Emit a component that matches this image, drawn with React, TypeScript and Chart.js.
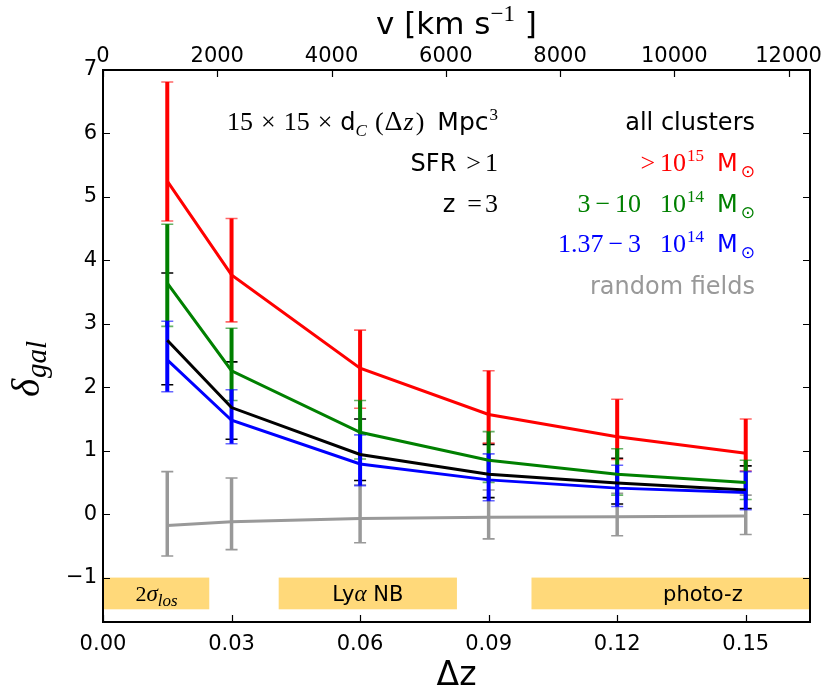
import React, { useEffect, useRef } from 'react';
import { Chart, registerables } from 'chart.js';

Chart.register(...registerables);

// ---------------- data ----------------
const dz = [0.015, 0.03, 0.06, 0.09, 0.12, 0.15];

const redY = [5.25, 3.77, 2.3, 1.57, 1.22, 0.96];
const redHi = [6.81, 4.66, 2.9, 2.26, 1.81, 1.5];
const redLo = [4.62, 3.03, 1.67, 1.12, 0.86, 0.68];

const greenY = [3.64, 2.26, 1.29, 0.85, 0.63, 0.5];
const greenHi = [4.57, 2.93, 1.79, 1.3, 1.03, 0.85];
const greenLo = [2.96, 1.79, 0.87, 0.5, 0.3, 0.23];

const blackY = [2.74, 1.68, 0.94, 0.63, 0.49, 0.38];
const blackHi = [3.8, 2.4, 1.5, 1.1, 0.88, 0.76];
const blackLo = [2.04, 1.18, 0.53, 0.26, 0.16, 0.09];

const blueY = [2.43, 1.48, 0.79, 0.54, 0.41, 0.34];
const blueHi = [3.04, 1.96, 1.25, 0.95, 0.77, 0.67];
const blueLo = [1.93, 1.11, 0.45, 0.21, 0.12, 0.07];

const grayY = [-0.18, -0.12, -0.07, -0.05, -0.04, -0.03];
const grayHi = [0.67, 0.57, 0.46, 0.38, 0.33, 0.3];
const grayLo = [-0.66, -0.56, -0.45, -0.39, -0.34, -0.32];

const xTicks = [0, 0.03, 0.06, 0.09, 0.12, 0.15];
const vTicks = [0, 2000, 4000, 6000, 8000, 10000, 12000];
const yTicks = [-1, 0, 1, 2, 3, 4, 5, 6, 7];

const X_MIN = 0;
const X_MAX = 0.165;
const V_MAX = 12375; // c * dz / (1+z), z = 3
const Y_MIN = -1.7;
const Y_MAX = 7;

const bandStart = [0, 0.041, 0.1];
const bandEnd = [0.0248, 0.0826, 0.165];
const bandLabelX = [0.0125, 0.0618, 0.14];
const BAND_TOP = -1.0;
const BAND_BOTTOM = -1.5;

// ---------------- styles ----------------
const RED = '#ff0000';
const GREEN = '#008000';
const BLUE = '#0000ff';
const BLACK = '#000000';
const GRAY = '#999999';
const BAND = '#ffd97a';

const SANS = '"DejaVu Sans", sans-serif';
const SERIF = '"Liberation Serif", "DejaVu Serif", serif';
const fnt = (size: number, fam: string, style = '') => `${style} ${size}px ${fam}`.trim();

type Series = { y: number[]; hi: number[]; lo: number[]; color: string; barW: number };
const SERIES_ERR_ORDER: Series[] = [
  { y: grayY, hi: grayHi, lo: grayLo, color: GRAY, barW: 3.5 },
  { y: blackY, hi: blackHi, lo: blackLo, color: BLACK, barW: 2 },
  { y: redY, hi: redHi, lo: redLo, color: RED, barW: 4 },
  { y: greenY, hi: greenHi, lo: greenLo, color: GREEN, barW: 4 },
  { y: blueY, hi: blueHi, lo: blueLo, color: BLUE, barW: 4 },
];

type Run = { t?: string; f?: string; dy?: number; c?: string; sp?: number };

function runWidth(ctx: CanvasRenderingContext2D, r: Run) {
  if (r.sp !== undefined) return r.sp;
  ctx.font = r.f || '';
  return ctx.measureText(r.t || '').width;
}

function drawRuns(ctx: CanvasRenderingContext2D, runs: Run[], x: number, y: number, align: 'left' | 'right' | 'center', color: string) {
  let w = 0;
  for (const r of runs) w += runWidth(ctx, r);
  let cx = align === 'right' ? x - w : align === 'center' ? x - w / 2 : x;
  ctx.textAlign = 'left';
  ctx.textBaseline = 'alphabetic';
  for (const r of runs) {
    if (r.sp === undefined) {
      ctx.font = r.f || '';
      ctx.fillStyle = r.c || color;
      ctx.fillText(r.t || '', cx, y + (r.dy || 0));
    }
    cx += runWidth(ctx, r);
  }
}

const A_S = 24; // annotation sans size
const A_M = 26; // annotation math size
const A_SUP = 17;
const M = fnt(A_M, SERIF);
const MI = fnt(A_M, SERIF, 'italic');
const SUPF = fnt(A_SUP, SERIF);
const S = fnt(A_S, SANS);

const msun = (): Run[] => [
  { sp: 13 },
  { t: 'M', f: S },
  { sp: 3 },
  { t: '\u2299', f: fnt(A_SUP, SANS), dy: 6 },
];

const decorPlugin = {
  id: 'decor',
  beforeDatasetsDraw(chart: any) {
    const { ctx, scales } = chart;
    const xs = scales.x;
    const ys = scales.y;
    ctx.save();
    // bands
    ctx.fillStyle = BAND;
    const yT = ys.getPixelForValue(BAND_TOP);
    const yB = ys.getPixelForValue(BAND_BOTTOM);
    for (let i = 0; i < bandStart.length; i++) {
      const x0 = xs.getPixelForValue(bandStart[i]);
      const x1 = xs.getPixelForValue(bandEnd[i]);
      ctx.fillRect(x0, yT, x1 - x0, yB - yT);
    }
    // band labels
    const by = yT + (yB - yT) / 2 + 8;
    drawRuns(ctx, [
      { t: '2', f: fnt(22, SERIF) },
      { t: '\u03c3', f: fnt(23, SERIF, 'italic') },
      { t: 'los', f: fnt(17, SERIF, 'italic'), dy: 5 },
    ], xs.getPixelForValue(bandLabelX[0]), by, 'center', BLACK);
    drawRuns(ctx, [
      { t: 'Ly', f: fnt(21, SANS) },
      { t: '\u03b1', f: fnt(23, SERIF, 'italic') },
      { t: ' NB', f: fnt(21, SANS) },
    ], xs.getPixelForValue(bandLabelX[1]), by, 'center', BLACK);
    drawRuns(ctx, [{ t: 'photo-z', f: fnt(21, SANS) }], xs.getPixelForValue(bandLabelX[2]), by, 'center', BLACK);

    // error bars
    ctx.lineCap = 'butt';
    for (const s of SERIES_ERR_ORDER) {
      for (let i = 0; i < dz.length; i++) {
        const px = xs.getPixelForValue(dz[i]);
        const pHi = ys.getPixelForValue(s.hi[i]);
        const pLo = ys.getPixelForValue(s.lo[i]);
        ctx.strokeStyle = s.color;
        ctx.globalAlpha = 1;
        ctx.lineWidth = s.barW;
        ctx.beginPath();
        ctx.moveTo(px, pHi);
        ctx.lineTo(px, pLo);
        ctx.stroke();
        ctx.globalAlpha = s.color === BLACK || s.color === GRAY ? 1 : 0.6;
        ctx.lineWidth = 1.6;
        ctx.beginPath();
        ctx.moveTo(px - 6, pHi);
        ctx.lineTo(px + 6, pHi);
        ctx.moveTo(px - 6, pLo);
        ctx.lineTo(px + 6, pLo);
        ctx.stroke();
      }
    }
    ctx.restore();
  },
  afterDraw(chart: any) {
    const { ctx, chartArea: a, scales } = chart;
    const xs = scales.x;
    const x2 = scales.x2;
    const ys = scales.y;
    ctx.save();
    // frame
    ctx.strokeStyle = '#000';
    ctx.lineWidth = 2;
    ctx.strokeRect(a.left, a.top, a.right - a.left, a.bottom - a.top);
    // inward ticks
    const TL = 7;
    ctx.lineWidth = 1.2;
    ctx.beginPath();
    for (const v of yTicks) {
      const py = Math.round(ys.getPixelForValue(v)) + 0.5;
      ctx.moveTo(a.left, py);
      ctx.lineTo(a.left + TL, py);
      ctx.moveTo(a.right, py);
      ctx.lineTo(a.right - TL, py);
    }
    for (const v of xTicks) {
      const px = Math.round(xs.getPixelForValue(v)) + 0.5;
      ctx.moveTo(px, a.bottom);
      ctx.lineTo(px, a.bottom - TL);
    }
    for (const v of vTicks) {
      const px = Math.round(x2.getPixelForValue(v)) + 0.5;
      ctx.moveTo(px, a.top);
      ctx.lineTo(px, a.top + TL);
    }
    ctx.stroke();

    // axis titles
    const cxp = (a.left + a.right) / 2;
    drawRuns(ctx, [
      { t: 'v [km s', f: fnt(31, SANS) },
      { t: '\u22121', f: fnt(23, SERIF), dy: -13 },
      { t: ' ]', f: fnt(31, SANS) },
    ], cxp, 34, 'center', BLACK);
    drawRuns(ctx, [{ t: '\u0394z', f: fnt(33, SANS) }], cxp, 685, 'center', BLACK);

    ctx.save();
    ctx.translate(39, 369);
    ctx.rotate(-Math.PI / 2);
    drawRuns(ctx, [
      { t: '\u03b4', f: fnt(39, SERIF, 'italic') },
      { sp: 1 },
      { t: 'gal', f: fnt(29, SERIF, 'italic'), dy: 7 },
    ], 0, 0, 'center', BLACK);
    ctx.restore();

    // annotations, left column
    const LX = 498;
    drawRuns(ctx, [
      { t: '15', f: M },
      { sp: 8 },
      { t: '\u00d7', f: M },
      { sp: 8 },
      { t: '15', f: M },
      { sp: 8 },
      { t: '\u00d7', f: M },
      { sp: 8 },
      { t: 'd', f: S },
      { t: 'C', f: fnt(A_SUP, SERIF, 'italic'), dy: 6 },
      { sp: 8 },
      { t: '(', f: M },
      { sp: 1 },
      { t: '\u0394', f: fnt(28, SERIF) },
      { sp: 1 },
      { t: 'z', f: MI },
      { sp: 2 },
      { t: ')', f: M },
      { sp: 13 },
      { t: 'Mpc', f: fnt(25, SANS) },
      { sp: 1 },
      { t: '3', f: SUPF, dy: -10 },
    ], LX, 130, 'right', BLACK);
    drawRuns(ctx, [
      { t: 'SFR', f: S },
      { sp: 10 },
      { t: '>', f: M },
      { sp: 4 },
      { t: '1', f: M },
    ], LX, 171, 'right', BLACK);
    drawRuns(ctx, [
      { t: 'z', f: S },
      { sp: 12 },
      { t: '=', f: M },
      { sp: 3 },
      { t: '3', f: M },
    ], LX, 212, 'right', BLACK);

    // right column
    const RX = 755;
    drawRuns(ctx, [{ t: 'all clusters', f: S }], RX, 130, 'right', BLACK);
    drawRuns(ctx, [
      { t: '>', f: M },
      { sp: 5 },
      { t: '10', f: M },
      { sp: 1 },
      { t: '15', f: SUPF, dy: -10 },
      ...msun(),
    ], RX, 171, 'right', RED);
    drawRuns(ctx, [
      { t: '3', f: M },
      { sp: 5 },
      { t: '\u2212', f: M },
      { sp: 5 },
      { t: '10', f: M },
      { sp: 19 },
      { t: '10', f: M },
      { sp: 1 },
      { t: '14', f: SUPF, dy: -10 },
      ...msun(),
    ], RX, 212, 'right', GREEN);
    drawRuns(ctx, [
      { t: '1.37', f: M },
      { sp: 5 },
      { t: '\u2212', f: M },
      { sp: 5 },
      { t: '3', f: M },
      { sp: 19 },
      { t: '10', f: M },
      { sp: 1 },
      { t: '14', f: SUPF, dy: -10 },
      ...msun(),
    ], RX, 252, 'right', BLUE);
    drawRuns(ctx, [{ t: 'random fields', f: S }], RX, 294, 'right', GRAY);

    ctx.restore();
  },
};

const tickFont = { family: 'DejaVu Sans', size: 21 };
const minus = (v: number) => (v < 0 ? '\u2212' + Math.abs(v) : String(v));

export default function App() {
  const ref = useRef<HTMLCanvasElement | null>(null);
  useEffect(() => {
    if (!ref.current) return;
    const mk = (ys: number[], color: string) => ({
      data: dz.map((x, i) => ({ x, y: ys[i] })),
      borderColor: color,
      borderWidth: 3,
      pointRadius: 0,
      fill: false,
      tension: 0,
      xAxisID: 'x',
      yAxisID: 'y',
    });
    const chart = new Chart(ref.current, {
      type: 'line',
      data: {
        datasets: [
          mk(grayY, GRAY),
          mk(blueY, BLUE),
          mk(blackY, BLACK),
          mk(greenY, GREEN),
          mk(redY, RED),
        ],
      },
      options: {
        animation: false,
        responsive: false,
        maintainAspectRatio: false,
        devicePixelRatio: 1,
        layout: { padding: 0 },
        plugins: { legend: { display: false }, tooltip: { enabled: false } },
        scales: {
          x: {
            type: 'linear',
            position: 'bottom',
            min: X_MIN,
            max: X_MAX,
            grid: { display: false, drawTicks: false },
            border: { display: false },
            ticks: { font: tickFont, color: '#000', padding: 10, maxRotation: 0, autoSkip: false, callback: (v: any) => Number(v).toFixed(2) },
            afterBuildTicks: (s: any) => { s.ticks = xTicks.map((value) => ({ value })); },
            afterFit: (s: any) => { s.height = 70; },
          },
          x2: {
            type: 'linear',
            position: 'top',
            min: 0,
            max: V_MAX,
            grid: { display: false, drawTicks: false },
            border: { display: false },
            ticks: { font: tickFont, color: '#000', padding: 1, maxRotation: 0, autoSkip: false, callback: (v: any) => String(v) },
            afterBuildTicks: (s: any) => { s.ticks = vTicks.map((value) => ({ value })); },
            afterFit: (s: any) => { s.height = 70; },
          },
          y: {
            type: 'linear',
            position: 'left',
            min: Y_MIN,
            max: Y_MAX,
            grid: { display: false, drawTicks: false },
            border: { display: false },
            ticks: { font: tickFont, color: '#000', padding: 6, autoSkip: false, callback: (v: any) => minus(Number(v)) },
            afterBuildTicks: (s: any) => { s.ticks = yTicks.map((value) => ({ value })); },
            afterFit: (s: any) => { s.width = 103; },
          },
          y2: {
            type: 'linear',
            position: 'right',
            min: Y_MIN,
            max: Y_MAX,
            grid: { display: false, drawTicks: false },
            border: { display: false },
            ticks: { display: false },
            afterFit: (s: any) => { s.width = 20; },
          },
        },
      } as any,
      plugins: [decorPlugin],
    });
    return () => chart.destroy();
  }, []);
  return (
    <div style={{ position: 'absolute', left: 0, top: 0, width: 830, height: 692, background: '#fff' }}>
      <canvas ref={ref} width={830} height={692} style={{ width: 830, height: 692, display: 'block' }} />
    </div>
  );
}
